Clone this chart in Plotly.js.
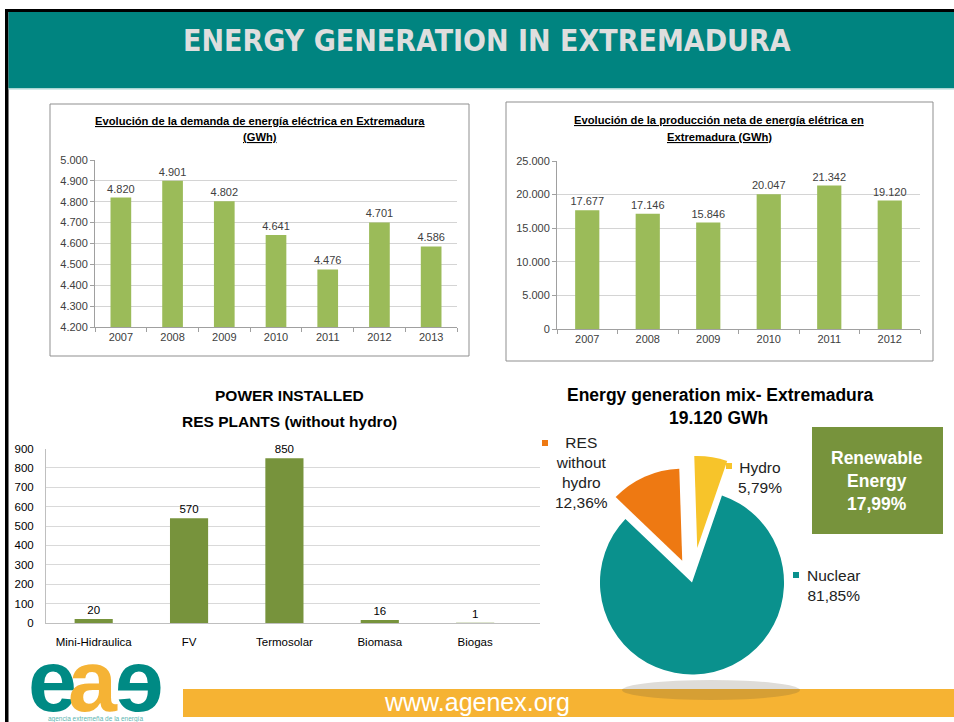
<!DOCTYPE html>
<html>
<head>
<meta charset="utf-8">
<script src="https://cdn.plot.ly/plotly-3.0.1.min.js"></script>
<style>html,body{margin:0;padding:0;background:#fff;}#chart{width:954px;height:722px;}</style>
</head>
<body>
<div id="chart"></div>
<script>
// ---------- data ----------
const demandYears = ['2007', '2008', '2009', '2010', '2011', '2012', '2013'];
const demandGWh = [4820, 4901, 4802, 4641, 4476, 4701, 4586];

const productionYears = ['2007', '2008', '2009', '2010', '2011', '2012'];
const productionGWh = [17677, 17146, 15846, 20047, 21342, 19120];

const resTech = ['Mini-Hidraulica', 'FV', 'Termosolar', 'Biomasa', 'Biogas'];
const resPowerMW = [20, 540, 850, 16, 1];
const resPowerLabels = ['20', '570', '850', '16', '1'];

const mixSources = ['Nuclear', 'RES without hydro', 'Hydro'];
const mixShare = [81.85, 12.36, 5.79];
const mixColors = ['#0A918D', '#EE7912', '#F7C42A'];
const mixTotalGWh = '19.120';
const renewableShare = '17,99%';

const headerTitle = 'ENERGY GENERATION IN EXTREMADURA';
const demandTitle = ['Evolución de la demanda de energía eléctrica en Extremadura', '(GWh)'];
const productionTitle = ['Evolución de la producción neta de energía elétrica en', 'Extremadura (GWh)'];
const powerTitle = ['POWER INSTALLED', 'RES PLANTS (without hydro)'];
const mixTitle = 'Energy generation mix- Extremadura';

// ---------- helpers (layout only) ----------
const W = 954, H = 722;
const X = p => p / W;
const Y = p => 1 - p / H;
const F = '"Liberation Sans", Arial, sans-serif';
const pct = v => v.toFixed(2).replace('.', ',') + '%';
function rect(x0, x1, y0, y1, extra) {
  return Object.assign({type: 'rect', xref: 'paper', yref: 'paper',
    x0: X(x0), x1: X(x1), y0: Y(y1), y1: Y(y0), line: {width: 0}}, extra);
}
function ann(text, x, y, font, extra) {
  return Object.assign({text: text, x: X(x), y: Y(y), xref: 'paper', yref: 'paper',
    xanchor: 'center', yanchor: 'middle', showarrow: false, font: font}, extra);
}

const grey = '#404040';
const tickFont = {family: F, size: 11, color: grey};
const logoFont = c => ({family: '"Liberation Sans", "DejaVu Sans", sans-serif', size: 88, color: c});

const traces = [
  {type: 'bar', x: demandYears, y: demandGWh, xaxis: 'x', yaxis: 'y',
   marker: {color: '#9BBB59'}, texttemplate: '%{y:,}', textposition: 'outside', constraintext: 'none',
   cliponaxis: false, textfont: {family: F, size: 11, color: grey}, hoverinfo: 'none'},
  {type: 'bar', x: productionYears, y: productionGWh, xaxis: 'x2', yaxis: 'y2',
   marker: {color: '#9BBB59'}, texttemplate: '%{y:,}', textposition: 'outside', constraintext: 'none',
   cliponaxis: false, textfont: {family: F, size: 11, color: grey}, hoverinfo: 'none'},
  {type: 'bar', x: resTech, y: resPowerMW, xaxis: 'x3', yaxis: 'y3',
   marker: {color: '#77933C'}, text: resPowerLabels, texttemplate: '%{text}', textposition: 'outside',
   constraintext: 'none', cliponaxis: false, textfont: {family: F, size: 11.5, color: '#000'}, hoverinfo: 'none'},
  {type: 'pie', labels: mixSources, values: mixShare, sort: false, direction: 'clockwise',
   rotation: 19, pull: [0, 0.26, 0.38], marker: {colors: mixColors, line: {width: 0}},
   textinfo: 'none', hoverinfo: 'none', showlegend: false,
   domain: {x: [X(692 - 127), X(692 + 127)], y: [Y(582.5 + 127), Y(582.5 - 127)]}}
];

const catAxis = {type: 'category', showline: true, linecolor: '#a0a0a0', ticks: 'outside',
  tickson: 'boundaries', ticklen: 4, tickcolor: '#a0a0a0', tickfont: tickFont, showgrid: false, fixedrange: true};
const valAxis = {showline: true, linecolor: '#a0a0a0', ticks: 'outside', ticklen: 4, tickcolor: '#a0a0a0',
  tickfont: tickFont, gridcolor: '#d4d4d4', gridwidth: 1, zeroline: false, tickformat: ',', fixedrange: true};

const layout = {
  width: W, height: H, margin: {l: 0, r: 0, t: 0, b: 0},
  paper_bgcolor: '#ffffff', plot_bgcolor: 'rgba(0,0,0,0)',
  separators: ',.', showlegend: false, bargap: 0.6,
  font: {family: F},
  xaxis: Object.assign({}, catAxis, {domain: [X(95), X(457)], anchor: 'y'}),
  yaxis: Object.assign({}, valAxis, {domain: [Y(327), Y(160)], anchor: 'x', range: [4200, 5000], dtick: 100}),
  xaxis2: Object.assign({}, catAxis, {domain: [X(557), X(920)], anchor: 'y2'}),
  yaxis2: Object.assign({}, valAxis, {domain: [Y(329), Y(161)], anchor: 'x2', range: [0, 25000], dtick: 5000}),
  xaxis3: {domain: [X(46), X(540)], anchor: 'y3', type: 'category', range: [-0.5, 4.68],
    showline: true, linecolor: '#bfbfbf', ticks: 'outside', ticklen: 8, tickcolor: 'rgba(0,0,0,0)',
    tickfont: {family: F, size: 11.5, color: '#000'}, showgrid: false, fixedrange: true},
  yaxis3: {domain: [Y(623), Y(448.5)], anchor: 'x3', range: [0, 900], dtick: 100,
    showline: true, linecolor: '#bfbfbf', ticks: 'outside', ticklen: 9, tickcolor: 'rgba(0,0,0,0)',
    tickfont: {family: F, size: 11.5, color: '#000'}, gridcolor: '#d9d9d9', zeroline: false, fixedrange: true},
  shapes: [
    rect(5, 954, 9, 12, {fillcolor: '#000'}),
    rect(5, 8.5, 9, 722, {fillcolor: '#000'}),
    rect(8.5, 954, 12, 88, {fillcolor: '#008480'}),
    rect(8.5, 954, 88, 89.5, {fillcolor: '#a9d6d4'}),
    rect(50, 469, 104, 356, {line: {color: '#8f8f8f', width: 1}, fillcolor: 'rgba(0,0,0,0)'}),
    rect(506, 933, 102, 361, {line: {color: '#8f8f8f', width: 1}, fillcolor: 'rgba(0,0,0,0)'}),
    rect(812, 943, 427, 534, {fillcolor: '#77933C'}),
    rect(183, 954, 689, 717, {fillcolor: '#F6B333'}),
    {type: 'circle', xref: 'paper', yref: 'paper', x0: X(622), x1: X(800), y0: Y(700), y1: Y(680),
     fillcolor: 'rgba(90,80,60,0.2)', line: {width: 0}},
    rect(542, 548, 440, 446, {fillcolor: mixColors[1]}),
    rect(726, 732, 463, 469, {fillcolor: mixColors[2]}),
    rect(793, 799, 572, 578, {fillcolor: mixColors[0]})
  ],
  annotations: [
    ann(headerTitle, 487, 40, {family: '"DejaVu Sans Condensed", "Liberation Sans", sans-serif', size: 30, color: '#DEDEDE', weight: 'bold'}),
    ann('<b><u>' + demandTitle[0] + '</u></b>', 260, 121, {family: F, size: 11.2, color: '#000'}),
    ann('<b><u>' + demandTitle[1] + '</u></b>', 260, 137, {family: F, size: 11.2, color: '#000'}),
    ann('<b><u>' + productionTitle[0] + '</u></b>', 719, 120, {family: F, size: 11.2, color: '#000'}),
    ann('<b><u>' + productionTitle[1] + '</u></b>', 719, 137, {family: F, size: 11.2, color: '#000'}),
    ann('<b>' + powerTitle[0] + '</b>', 289, 395, {family: F, size: 15.5, color: '#000'}),
    ann('<b>' + powerTitle[1] + '</b>', 289, 421, {family: F, size: 15.5, color: '#000'}),
    ann('<b>' + mixTitle + '</b>', 720, 395, {family: F, size: 17.5, color: '#000'}),
    ann('<b>' + mixTotalGWh + ' GWh</b>', 718, 418, {family: F, size: 17.5, color: '#000'}),
    ann(mixSources[1].split(' ').join('<br>') + '<br>' + pct(mixShare[1]), 581, 472, {family: F, size: 15.5, color: '#222'}),
    ann(mixSources[2] + '<br>' + pct(mixShare[2]), 760, 477, {family: F, size: 15.5, color: '#222'}),
    ann(mixSources[0] + '<br>' + pct(mixShare[0]), 833, 585, {family: F, size: 15.5, color: '#222'}),
    ann('<b>Renewable<br>Energy<br>' + renewableShare + '</b>', 877, 481, {family: F, size: 17.5, color: '#fff'}),
    ann('www.agenex.org', 477, 702, {family: F, size: 25, color: '#fff'}),
    ann('<b>e</b>', 52, 680, logoFont('#008A84')),
    ann('<b>a</b>', 93, 680, logoFont('#F5B335')),
    ann('<b>ɘ</b>', 139, 680, logoFont('#008A84')),
    ann('agencia extremeña de la energía', 95, 719, {family: F, size: 6.5, color: '#5bb5b0'})
  ]
};

Plotly.newPlot('chart', traces, layout, {staticPlot: true, displayModeBar: false});
</script>
</body>
</html>
